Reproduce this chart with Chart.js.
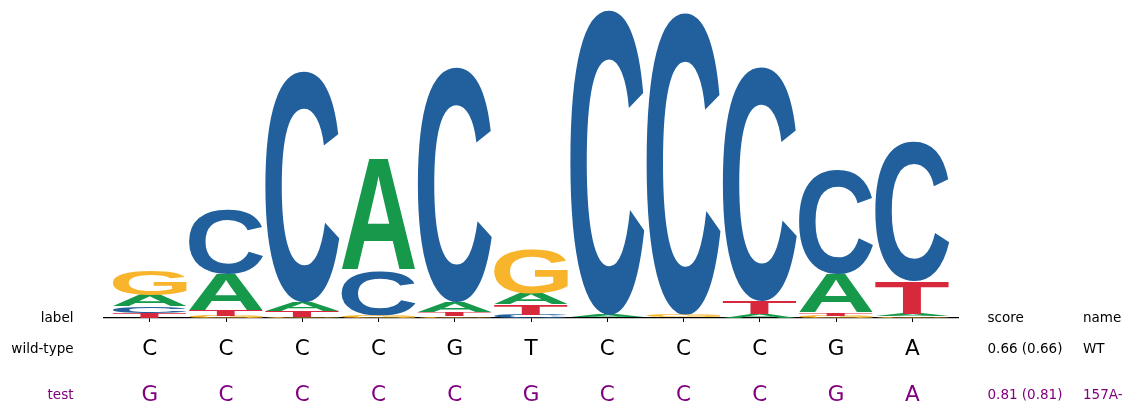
<!DOCTYPE html>
<html lang="en">

<head>
    <meta charset="UTF-8">
    <title>Sequence logo</title>
    <style>
        body { margin: 0; background: #fff; }
        #wrap { width: 1133px; height: 415px; }
    </style>
</head>

<body>

    <div id="wrap">
        <canvas id="myChart" width="1133" height="415"></canvas>
    </div>

    <script src="https://cdn.jsdelivr.net/npm/chart.js@4.4.1/dist/chart.umd.min.js"></script>

    <script>
        // positions 0..10, letter heights in bits
        var positions = [0, 1, 2, 3, 4, 5, 6, 7, 8, 9, 10];
        var letters = ['A', 'C', 'G', 'T'];
        var heightA = [0.074, 0.234, 0.058, 0.721, 0.065, 0.073, 0.014, 0.002, 0.023, 0.249, 0.019];
        var heightC = [0.045, 0.422, 1.500, 0.292, 1.526, 0.021, 1.981, 1.963, 1.521, 0.675, 0.905];
        var heightG = [0.164, 0.016, 0.005, 0.016, 0.012, 0.286, 0.003, 0.015, 0.003, 0.015, 0.010];
        var heightT = [0.031, 0.037, 0.039, 0.002, 0.026, 0.067, 0.002, 0.002, 0.084, 0.019, 0.210];

        // rows of sequences under the logo
        var rowLabels = ['label', 'wild-type', 'test'];
        var wildType = ['C', 'C', 'C', 'C', 'G', 'T', 'C', 'C', 'C', 'G', 'A'];
        var testSeq = ['G', 'C', 'C', 'C', 'C', 'G', 'C', 'C', 'C', 'G', 'A'];
        var scoreCol = ['score', '0.66 (0.66)', '0.81 (0.81)'];
        var nameCol = ['name', 'WT', '157A-'];

        var letterColors = { A: '#16994a', C: '#22609d', G: '#f8b42a', T: '#d8283c' };
        var rowColors = ['#000000', '#000000', '#800080'];

        // smallest letter at the bottom of each column
        var heights = { A: heightA, C: heightC, G: heightG, T: heightT };
        var floating = { A: [], C: [], G: [], T: [] };
        positions.forEach(function (p, i) {
            var order = letters.slice().sort(function (a, b) { return heights[a][i] - heights[b][i]; });
            var base = 0;
            order.forEach(function (l) {
                floating[l].push({ x: p, y: [base, base + heights[l][i]] });
                base += heights[l][i];
            });
        });

        var logoPlugin = {
            id: 'logo',
            afterDatasetsDraw: function (chart) {
                var ctx = chart.ctx;
                chart.data.datasets.forEach(function (ds, di) {
                    var meta = chart.getDatasetMeta(di);
                    meta.data.forEach(function (bar) {
                        var p = bar.getProps(['x', 'y', 'base', 'width'], true);
                        var h = p.base - p.y;
                        if (h <= 0) return;
                        ctx.save();
                        ctx.font = 'bold 200px "Liberation Sans", Arial, sans-serif';
                        ctx.textBaseline = 'alphabetic';
                        ctx.textAlign = 'left';
                        var m = ctx.measureText(ds.label);
                        var gw = m.actualBoundingBoxLeft + m.actualBoundingBoxRight;
                        var gh = m.actualBoundingBoxAscent + m.actualBoundingBoxDescent;
                        ctx.translate(p.x - p.width / 2, p.y);
                        ctx.scale(p.width / gw, h / gh);
                        ctx.fillStyle = letterColors[ds.label];
                        ctx.fillText(ds.label, m.actualBoundingBoxLeft, m.actualBoundingBoxAscent);
                        ctx.restore();
                    });
                });
            },
            afterDraw: function (chart) {
                var ctx = chart.ctx;
                var xs = chart.scales.x;
                var bottom = chart.chartArea.bottom;
                var rowY = [bottom, bottom + 31, bottom + 77];
                ctx.save();
                ctx.textBaseline = 'middle';
                ctx.font = '13.5px "DejaVu Sans", sans-serif';
                rowLabels.forEach(function (t, r) {
                    ctx.fillStyle = rowColors[r];
                    ctx.textAlign = 'right';
                    ctx.fillText(t, 73.5, rowY[r]);
                    ctx.textAlign = 'left';
                    ctx.fillText(scoreCol[r], 987.5, rowY[r]);
                    ctx.fillText(nameCol[r], 1083, rowY[r]);
                });
                ctx.font = '21.5px "DejaVu Sans", sans-serif';
                ctx.textAlign = 'center';
                positions.forEach(function (p, i) {
                    var x = xs.getPixelForValue(p);
                    ctx.fillStyle = rowColors[1];
                    ctx.fillText(wildType[i], x, rowY[1]);
                    ctx.fillStyle = rowColors[2];
                    ctx.fillText(testSeq[i], x, rowY[2]);
                });
                ctx.restore();
            }
        };

        function createChart() {
            var ctx = document.getElementById('myChart').getContext('2d');
            new Chart(ctx, {
                type: 'bar',
                data: {
                    datasets: letters.map(function (l) {
                        return {
                            label: l,
                            data: floating[l],
                            backgroundColor: 'rgba(0,0,0,0)',
                            borderWidth: 0,
                            grouped: false,
                            barPercentage: 0.97,
                            categoryPercentage: 1
                        };
                    })
                },
                options: {
                    responsive: false,
                    animation: false,
                    layout: { padding: { left: 104, right: 175, top: 10, bottom: 93 } },
                    plugins: { legend: { display: false }, tooltip: { enabled: false } },
                    scales: {
                        x: {
                            type: 'linear',
                            min: -0.6,
                            max: 10.6,
                            offset: false,
                            afterBuildTicks: function (s) {
                                s.ticks = positions.map(function (p) { return { value: p }; });
                            },
                            ticks: { display: false },
                            grid: { offset: false, drawOnChartArea: false, drawTicks: true, tickLength: 4, color: '#000', lineWidth: 1 },
                            border: { display: true, color: '#000', width: 1.3 }
                        },
                        y: {
                            display: false,
                            min: 0,
                            max: 2.0
                        }
                    }
                },
                plugins: [logoPlugin]
            });
        }

        document.addEventListener('DOMContentLoaded', createChart);
    </script>

</body>

</html>
